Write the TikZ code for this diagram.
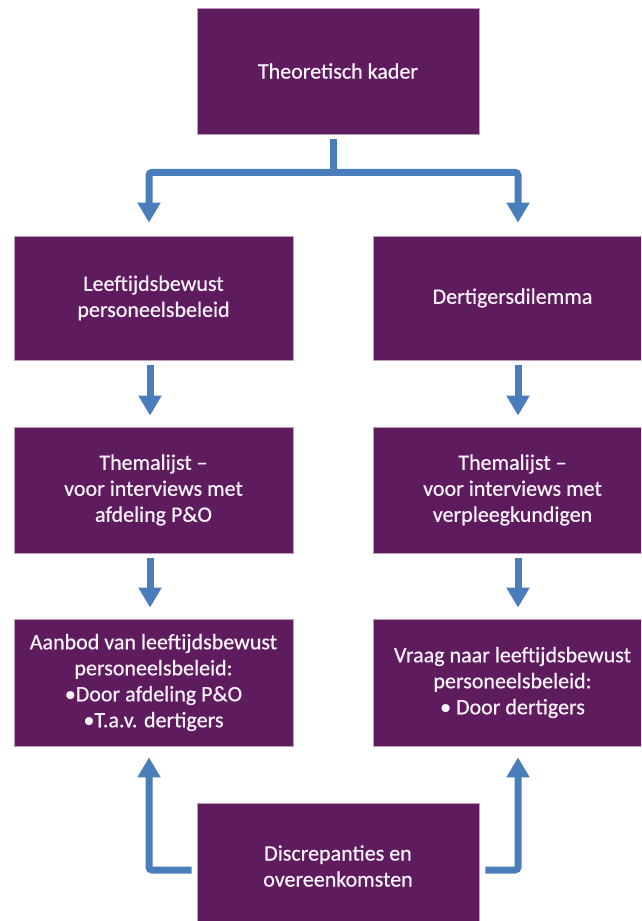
\documentclass[tikz,border=0pt]{standalone}
\usepackage{fontspec}
\setmainfont{Carlito}
\newfontfamily\boxfont[FakeBold=0.6]{Carlito}
\usetikzlibrary{arrows.meta}
\definecolor{boxfill}{HTML}{5E1B5E}
\definecolor{boxline}{HTML}{C29CC0}
\definecolor{arrowblue}{HTML}{4A7EBB}
\definecolor{boxtext}{HTML}{FAF2FA}
\tikzset{
  box/.style={rectangle, fill=boxfill, draw=boxline, line width=0.8pt,
    text=boxtext, align=center, inner sep=0pt,
    font=\boxfont\fontsize{22}{26}\selectfont},
  widebox/.style={box, minimum width=282pt, minimum height=126pt},
  colbox/.style={box, minimum width=279pt},
  conn/.style={draw=arrowblue, line width=7pt, rounded corners=3pt},
  arr/.style={conn, -{Triangle[width=22pt,length=20pt]}}
}
\begin{document}
\begin{tikzpicture}[x=1pt,y=-1pt]
\useasboundingbox (0,0) rectangle (641,921);
\clip (0,0) rectangle (641,921);
\fill[white] (0,0) rectangle (641,921);

\node[widebox] (top) at (338,71) {Theoretisch kader};
\node[colbox, minimum height=124pt] (l2) at (153.5,298) {Leeftijdsbewust\\personeelsbeleid};
\node[colbox, minimum height=124pt] (r2) at (512.5,298) {Dertigersdilemma};
\node[colbox, minimum height=126pt] (l3) at (153.5,490) {Themalijst –\\voor interviews met\\afdeling P\&O};
\node[colbox, minimum height=126pt] (r3) at (512.5,490) {Themalijst –\\voor interviews met\\verpleegkundigen};
\node[colbox, minimum height=127pt] (l4) at (153.5,682.5) {Aanbod van leeftijdsbewust\\personeelsbeleid:\\•Door afdeling P\&O\\•T.a.v. dertigers};
\node[colbox, minimum height=127pt] (r4) at (512.5,682.5) {Vraag naar leeftijdsbewust\\personeelsbeleid:\\• Door dertigers};
\node[widebox] (bot) at (338,866) {Discrepanties en\\overeenkomsten};

\coordinate (stemtop) at ([shift={(-5,5)}]top.south);
\coordinate (junction) at ([shift={(-5,38)}]top.south);
\path[conn] (stemtop) -- (junction);
\path[arr] (junction) -| ([shift={(-4.5,-13)}]l2.north);
\path[arr] (junction) -| ([shift={(5.5,-13)}]r2.north);

\path[arr] ([shift={(-3.5,5)}]l2.south) -- ([shift={(-3.5,-11)}]l3.north);
\path[arr] ([shift={(5.5,5)}]r2.south) -- ([shift={(5.5,-11)}]r3.north);
\path[arr] ([shift={(-3.5,5)}]l3.south) -- ([shift={(-3.5,-11)}]l4.north);
\path[arr] ([shift={(5.5,5)}]r3.south) -- ([shift={(5.5,-11)}]r4.north);

\path[arr] ([shift={(-5,4)}]bot.west) -| ([shift={(-4.5,11)}]l4.south);
\path[arr] ([shift={(6,4)}]bot.east) -| ([shift={(5.5,11)}]r4.south);
\end{tikzpicture}
\end{document}
